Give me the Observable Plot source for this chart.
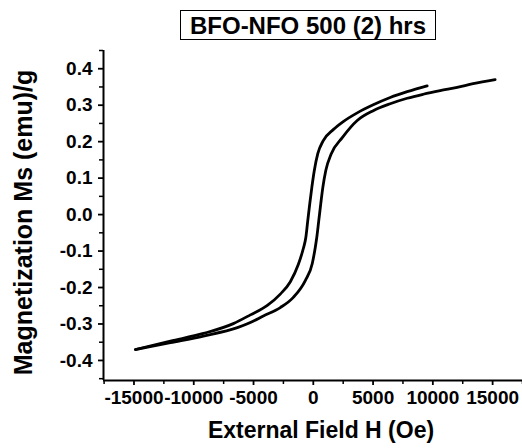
<!DOCTYPE html>
<html>
<head>
<meta charset="utf-8">
<script src="https://cdn.jsdelivr.net/npm/d3@7"></script>
<script src="https://cdn.jsdelivr.net/npm/@observablehq/plot@0.6"></script>
<style>
  html, body { margin: 0; padding: 0; background: #fff; }
  body { width: 522px; height: 448px; overflow: hidden; font-family: "Liberation Sans", Arial, sans-serif; }
  #title-wrap { height: 44px; position: relative; }
  #title {
    position: absolute; left: 180px; top: 10px; width: 254px; height: 28px;
    border: 1.5px solid #000; font-weight: bold; font-size: 24px; line-height: 29px;
    text-align: center; color: #000; white-space: nowrap;
  }
</style>
</head>
<body>
<div id="title-wrap"><div id="title">BFO-NFO 500 (2) hrs</div></div>
<div id="chart"></div>
<script>
// Upper (descending-field) branch, listed in increasing H
const upperH = [-14880, -11950, -9190, -6690, -5265, -3845, -2760, -1920, -1255, -835, -625, -460, -295, -125, 85, 375, 835, 1670, 2505, 3675, 5015, 6435, 7855, 9525];
const upperM = [-0.370, -0.347, -0.326, -0.299, -0.275, -0.249, -0.218, -0.184, -0.137, -0.093, -0.063, -0.016, 0.030, 0.074, 0.121, 0.167, 0.203, 0.233, 0.255, 0.279, 0.301, 0.321, 0.337, 0.353];
// Lower (ascending-field) branch, listed in increasing H
const lowerH = [-14880, -11950, -9190, -6350, -5265, -4180, -2760, -1670, -670, -85, 165, 290, 460, 625, 795, 1045, 1505, 2425, 3675, 5015, 6435, 7855, 9195, 10615, 12035, 13370, 15210];
const lowerM = [-0.370, -0.351, -0.333, -0.310, -0.296, -0.278, -0.255, -0.227, -0.181, -0.134, -0.090, -0.063, -0.016, 0.030, 0.074, 0.121, 0.167, 0.211, 0.258, 0.285, 0.304, 0.319, 0.330, 0.340, 0.349, 0.359, 0.370];

const xTicks = [-15000, -10000, -5000, 0, 5000, 10000, 15000];
const xMinor = [-17500, -12500, -7500, -2500, 2500, 7500, 12500, 17500];
const yTicks = [-0.4, -0.3, -0.2, -0.1, 0.0, 0.1, 0.2, 0.3, 0.4];
const yMinor = [-0.45, -0.35, -0.25, -0.15, -0.05, 0.05, 0.15, 0.25, 0.35, 0.45];
const xDomain = [-17550, 17500];
const yDomain = [-0.455, 0.45];

const xTitle = "External Field H (Oe)";
const yTitle = "Magnetization Ms (emu)/g";

const upper = upperH.map((h, i) => ({H: h, M: upperM[i]}));
const lower = lowerH.map((h, i) => ({H: h, M: lowerM[i]}));

const font = "Liberation Sans, Arial, sans-serif";

const chart = Plot.plot({
  width: 522,
  height: 404,
  marginTop: 6,
  marginLeft: 103,
  marginRight: 0,
  marginBottom: 68,
  style: {fontFamily: font, color: "#000", background: "#fff"},
  x: {domain: xDomain},
  y: {domain: yDomain},
  marks: [
    // minor ticks
    Plot.axisX({ticks: xMinor, tickSize: 4, tickFormat: () => "", stroke: "#000", strokeWidth: 1.5, label: null}),
    Plot.axisY({ticks: yMinor, tickSize: 4, tickFormat: () => "", stroke: "#000", strokeWidth: 1.5, label: null}),
    // major ticks and labels
    Plot.axisX({ticks: xTicks, tickSize: 5, tickPadding: 5, tickFormat: d => String(d), stroke: "#000", strokeWidth: 1.8,
      fontSize: 19, fontWeight: "bold", fill: "#000", label: null}),
    Plot.axisY({ticks: yTicks, tickSize: 5, tickPadding: 6, tickFormat: d => d.toFixed(1), stroke: "#000", strokeWidth: 1.8,
      fontSize: 19, fontWeight: "bold", fill: "#000", label: null}),
    // axis lines
    Plot.ruleX([xDomain[0]], {stroke: "#000", strokeWidth: 2}),
    Plot.ruleY([yDomain[0]], {stroke: "#000", strokeWidth: 2}),
    // hysteresis branches
    Plot.line(upper, {x: "H", y: "M", stroke: "#000", strokeWidth: 2.8, curve: "monotone-x"}),
    Plot.line(lower, {x: "H", y: "M", stroke: "#000", strokeWidth: 2.8, curve: "monotone-x"}),
    // axis titles
    Plot.text([xTitle], {frameAnchor: "bottom", text: d => d, dx: 8, dy: 57, lineAnchor: "bottom", textAnchor: "middle",
      fontSize: 23, fontWeight: "bold", fill: "#000"}),
    Plot.text([yTitle], {frameAnchor: "left", text: d => d, rotate: -90, dx: -80, dy: 7, lineAnchor: "middle", textAnchor: "middle",
      fontSize: 25, fontWeight: "bold", fill: "#000"})
  ]
});
document.getElementById("chart").appendChild(chart);
</script>
</body>
</html>
